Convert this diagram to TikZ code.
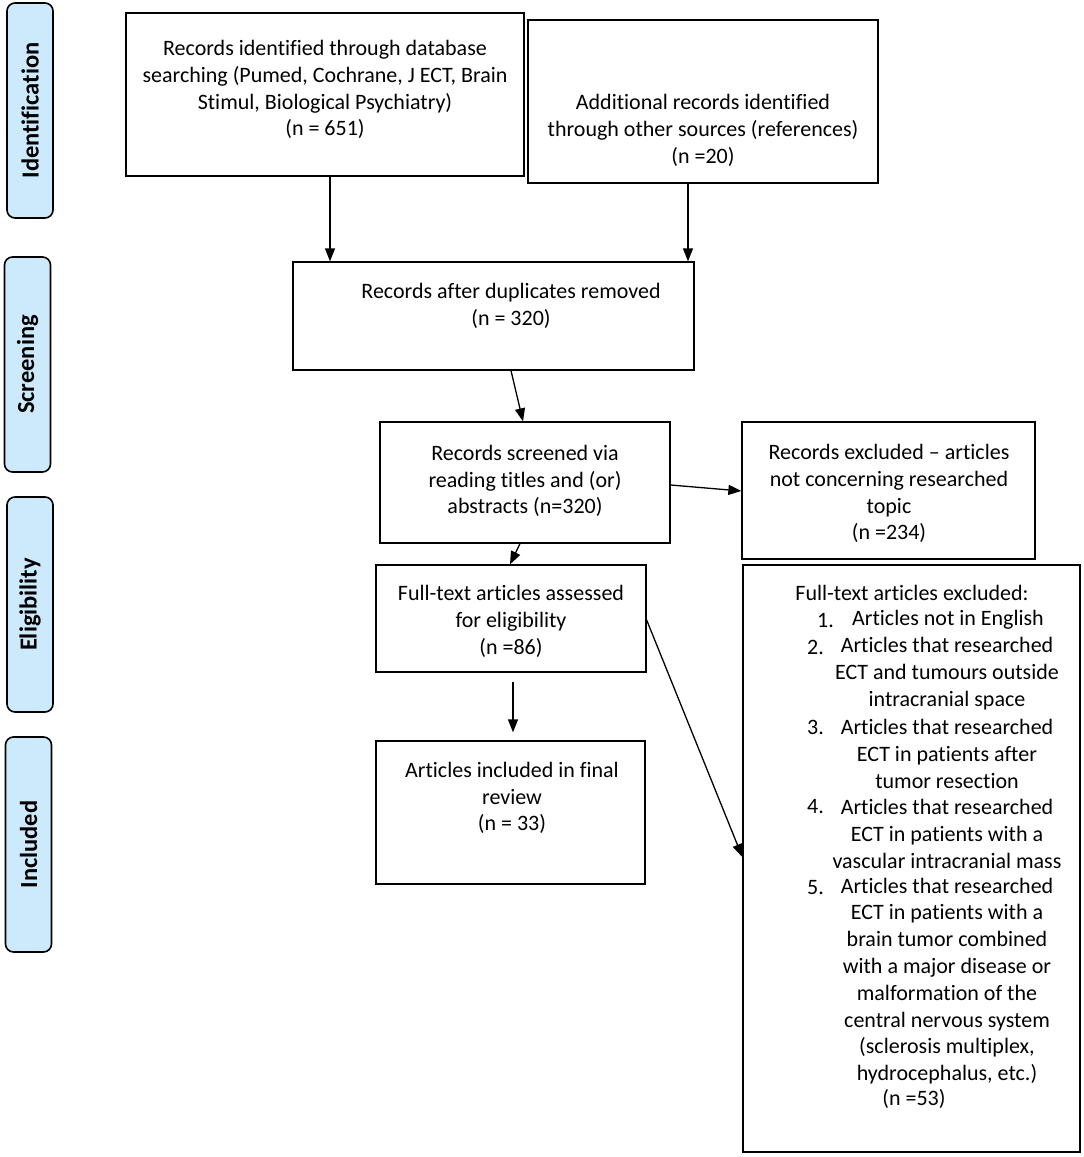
\documentclass[tikz,border=0pt]{standalone}
\usepackage{fontspec}
\setmainfont[Ligatures={NoCommon,NoContextual,NoRare}]{Carlito}
\usetikzlibrary{arrows.meta,calc}
\definecolor{lblue}{HTML}{CCEAFB}
\begin{document}
\begin{tikzpicture}[x=1pt,y=-1pt,
  box/.style={draw=black,line width=1.3pt,rectangle,inner sep=0pt},
  txt/.style={align=center,inner sep=0pt,font=\fontsize{22}{26.8}\selectfont},
  stage/.style={draw=black,line width=1.6pt,fill=lblue,rounded corners=8pt,rotate=90,
    minimum width=215pt,minimum height=46pt,inner sep=0pt,font=\fontsize{24.5}{28}\selectfont\bfseries},
  arr/.style={line width=1.3pt,-{Triangle[length=13pt,width=10pt]}}]
\useasboundingbox (0,0) rectangle (1084,1157);
% stage labels
\node[stage] (sid) at (30,110.5) {Identification};
\node[stage] (ssc) at (27.5,364.5) {Screening};
\node[stage] (sel) at (30,604.5) {Eligibility};
\node[stage] (sin) at (28.5,844.5) {Included};
% boxes
\node[box,minimum width=398pt,minimum height=163pt] (b1) at (325,94.5) {};
\node[txt] (t1) at (325,89.5) {Records identified through database\\searching (Pumed, Cochrane, J ECT, Brain\\Stimul, Biological Psychiatry)\\(n = 651)};
\node[box,minimum width=350pt,minimum height=163pt] (b2) at (703,101.5) {};
\node[txt] (t2) at (703,130.5) {Additional records identified\\through other sources (references)\\(n =20)};
\node[box,minimum width=401pt,minimum height=108pt] (b3) at (493.5,316) {};
\node[txt] (t3) at (511,305.5) {Records after duplicates removed\\(n = 320)};
\node[box,minimum width=290pt,minimum height=121pt] (b4) at (525,482.5) {};
\node[txt] (t4) at (525,481) {Records screened via\\reading titles and (or)\\abstracts (n=320)};
\node[box,minimum width=293pt,minimum height=137pt] (b5) at (888.5,490.5) {};
\node[txt] (t5) at (889,493.5) {Records excluded – articles\\not concerning researched\\topic\\(n =234)};
\node[box,minimum width=270pt,minimum height=107pt] (b6) at (511,618.5) {};
\node[txt] (t6) at (511,621.5) {Full-text articles assessed\\for eligibility\\(n =86)};
\node[box,minimum width=269pt,minimum height=143pt] (b7) at (510.5,812.5) {};
\node[txt] (t7) at (512,798) {Articles included in final\\review\\(n = 33)};
\node[box,minimum width=337pt,minimum height=587pt] (b8) at (911.5,858.5) {};
\node[txt] (h8) at (912,593) {Full-text articles excluded:};
\node[txt,anchor=west] (n1) at (817,620) {1.};
\node[txt] (i1) at (948,620) {Articles not in English};
\node[txt,anchor=west] (n2) at (807,647) {2.};
\node[txt] (i2) at (947,673.5) {Articles that researched\\ECT and tumours outside\\intracranial space};
\node[txt,anchor=west] (n3) at (807,727) {3.};
\node[txt] (i3) at (947,754) {Articles that researched\\ECT in patients after\\tumor resection};
\node[txt,anchor=west] (n4) at (807,807) {4.};
\node[txt] (i4) at (947,834) {Articles that researched\\ECT in patients with a\\vascular intracranial mass};
\node[txt,anchor=west] (n5) at (807,888) {5.};
\node[txt] (i5) at (947,981) {Articles that researched\\ECT in patients with a\\brain tumor combined\\with a major disease or\\malformation of the\\central nervous system\\(sclerosis multiplex,\\hydrocephalus, etc.)};
\node[txt] (m8) at (914,1099) {(n =53)};
% connectors
\draw[arr] (b1.south -| 330,0) -- (b3.north -| 330,0);
\draw[arr] (b2.south -| 688,0) -- (b3.north -| 688,0);
\draw[arr] (b3.south -| 511,0) -- (b4.north -| 523,0);
\draw[arr] (b4.east |- 0,485) -- (b5.west |- 0,491);
\draw[arr] (b4.south -| 520,0) -- (b6.north -| 510,0);
\draw[arr,shorten <=9pt,shorten >=8pt] (b6.south -| 513,0) -- (b7.north -| 513,0);
\draw[arr] (b6.east |- 0,620) -- (b8.west |- 0,857);
\end{tikzpicture}
\end{document}
